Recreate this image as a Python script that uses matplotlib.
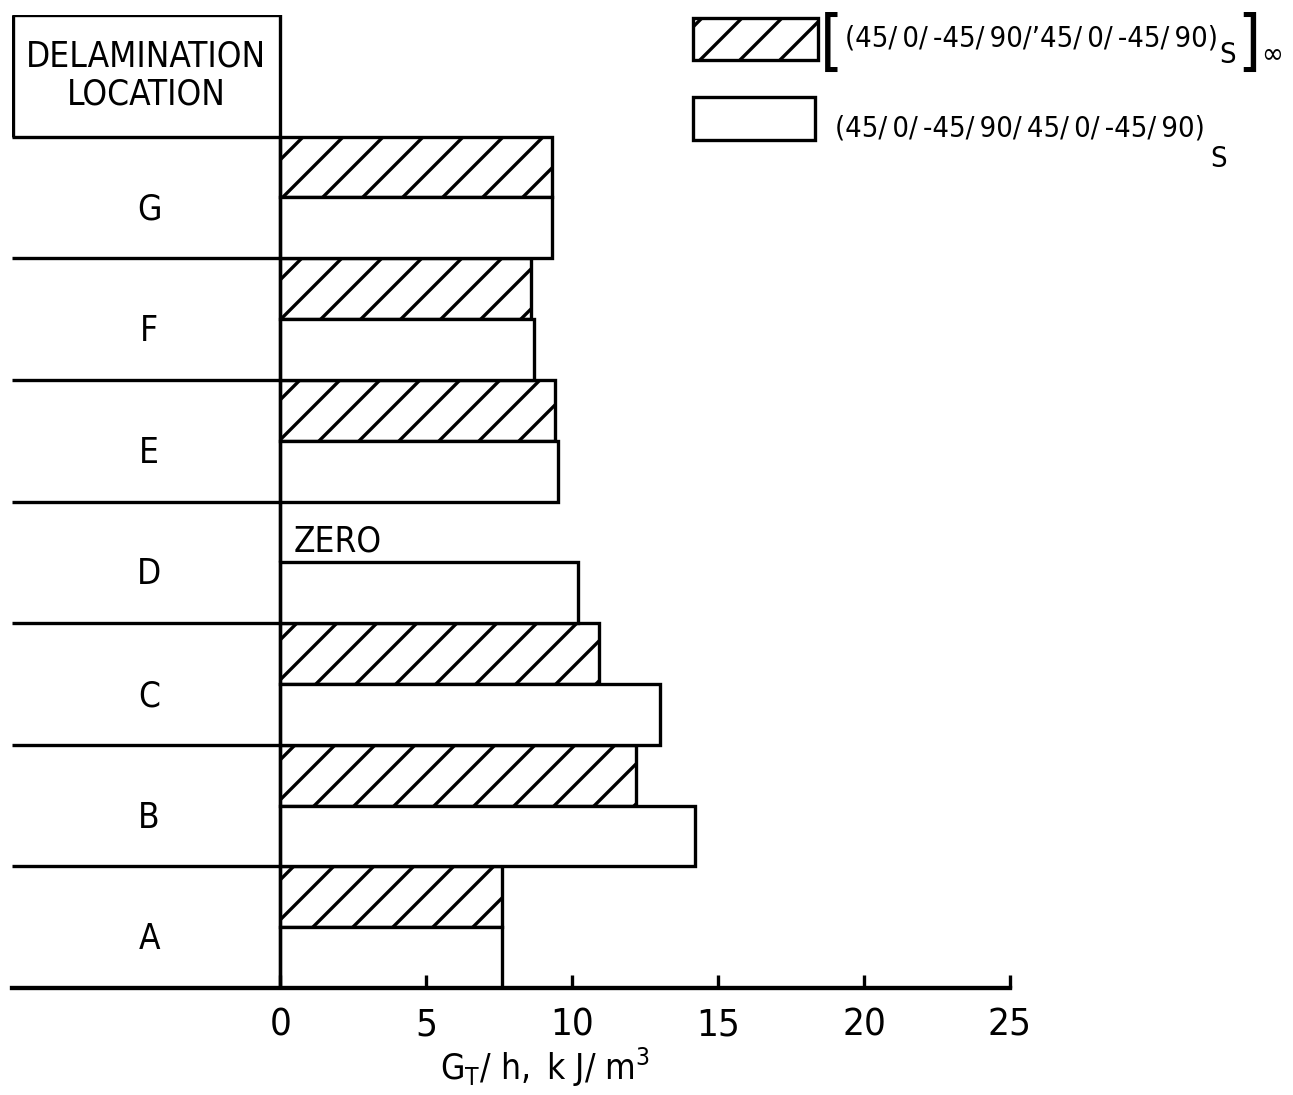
import numpy as np
import matplotlib
matplotlib.use("Agg")
import matplotlib.pyplot as plt
from matplotlib.patches import Rectangle

### DONNEES

locations = ["A", "B", "C", "D", "E", "F", "G"]
hatched_vals = [7.6, 12.2, 10.9, 0.0, 9.4, 8.6, 9.3]   # [(45/0/-45/90/45/0/-45/90)s]inf
plain_vals = [7.6, 14.2, 13.0, 10.2, 9.5, 8.7, 9.3]    # (45/0/-45/90/45/0/-45/90)s
zero_rows = ["D"]
x_ticks = [0, 5, 10, 15, 20, 25]

header_text = "DELAMINATION\nLOCATION"
sp = "\u2009"
label_hatched = f"(45/{sp}0/{sp}-45/{sp}90/’45/{sp}0/{sp}-45/{sp}90)"
label_plain = f"(45/{sp}0/{sp}-45/{sp}90/{sp}45/{sp}0/{sp}-45/{sp}90)"
x_label = r"$\mathregular{G_T/\ h,\ k\ J/\ m^3}$"

### STYLE

plt.rcParams['font.family'] = ['DejaVu Sans']
plt.rcParams['font.stretch'] = 'condensed'
plt.rcParams['hatch.linewidth'] = 1.0
plt.rcParams['hatch.color'] = 'black'

W, H, DPI = 1293, 1095, 240
fs = 10.5
fs_leg = 8.7
lw = 1.0
x_left = -9.2

fig = plt.figure(figsize=(W / DPI, H / DPI), dpi=DPI)
ax = fig.add_axes([12 / W, 1 - 988 / H, 998 / W, 973 / H])

rows = np.arange(len(locations))

# barres
ax.barh(rows + 0.25, hatched_vals, height=0.5, color='white',
        edgecolor='black', linewidth=lw, hatch='//')
ax.barh(rows - 0.25, plain_vals, height=0.5, color='white',
        edgecolor='black', linewidth=lw)

# tableau a gauche
ax.axvline(0, color='black', lw=lw)
ax.hlines(rows[:-1] + 0.5, x_left, 0, color='black', lw=lw)
ax.hlines([len(locations) - 0.5, len(locations) + 0.5], x_left, 0,
          color='black', lw=lw)
ax.vlines(x_left + 0.05, len(locations) - 0.5, len(locations) + 0.5,
          color='black', lw=lw)
ax.text(x_left / 2, len(locations), header_text, ha='center',
        va='center', fontsize=fs, linespacing=1.15)

for r, loc in zip(rows, locations):
    ax.text(-4.5, r - 0.1, loc, ha='center', va='center', fontsize=fs)
    if loc in zero_rows:
        ax.text(0.45, r + 0.17, "ZERO", ha='left', va='center', fontsize=fs)

# axes
ax.set_xlim(x_left, 25)
ax.set_ylim(-0.5, len(locations) + 0.5)
for s in ['top', 'right', 'left']:
    ax.spines[s].set_visible(False)
ax.spines['bottom'].set_linewidth(1.3)
ax.set_yticks([])
ax.set_xticks(x_ticks)
ax.set_xticklabels([str(t) for t in x_ticks], fontsize=fs + 1)
ax.tick_params(axis='x', direction='in', length=4, width=1.0, pad=6)
ax.text((545 - 12) / 998, -0.082, x_label, transform=ax.transAxes,
        ha='center', va='center', fontsize=fs)

# legende
fig.add_artist(Rectangle((693 / W, 1 - 60 / H), 125 / W, 42 / H,
                         transform=fig.transFigure, facecolor='white',
                         edgecolor='black', lw=lw, hatch='//'))
fig.add_artist(Rectangle((693 / W, 1 - 140 / H), 122 / W, 43 / H,
                         transform=fig.transFigure, facecolor='white',
                         edgecolor='black', lw=lw))

br = fig.text(820 / W, 1 - 44 / H, "[", ha='left', va='center',
              fontsize=fs * 1.9)
t1 = fig.text(845 / W, 1 - 38 / H, label_hatched, ha='left', va='center',
              fontsize=fs_leg)
s1 = ax.annotate("S", xy=(1, 0), xycoords=t1, xytext=(0.5, -1),
                 textcoords='offset points', ha='left', va='center',
                 fontsize=fs_leg)
b1 = ax.annotate("]", xy=(1, 0.5), xycoords=(s1, br), xytext=(0.3, 0),
                 textcoords='offset points', ha='left', va='center',
                 fontsize=fs * 1.9)
ax.annotate("∞", xy=(1, 0.5), xycoords=b1, xytext=(0.3, -3),
            textcoords='offset points', ha='left', va='center',
            fontsize=fs_leg)

t2 = fig.text(835 / W, 1 - 128 / H, label_plain, ha='left', va='center',
              fontsize=fs_leg)
ax.annotate("S", xy=(1, 0), xycoords=t2, xytext=(1.5, -5),
            textcoords='offset points', ha='left', va='center',
            fontsize=fs_leg)

fig.savefig("out.png", dpi=DPI, facecolor='white')
